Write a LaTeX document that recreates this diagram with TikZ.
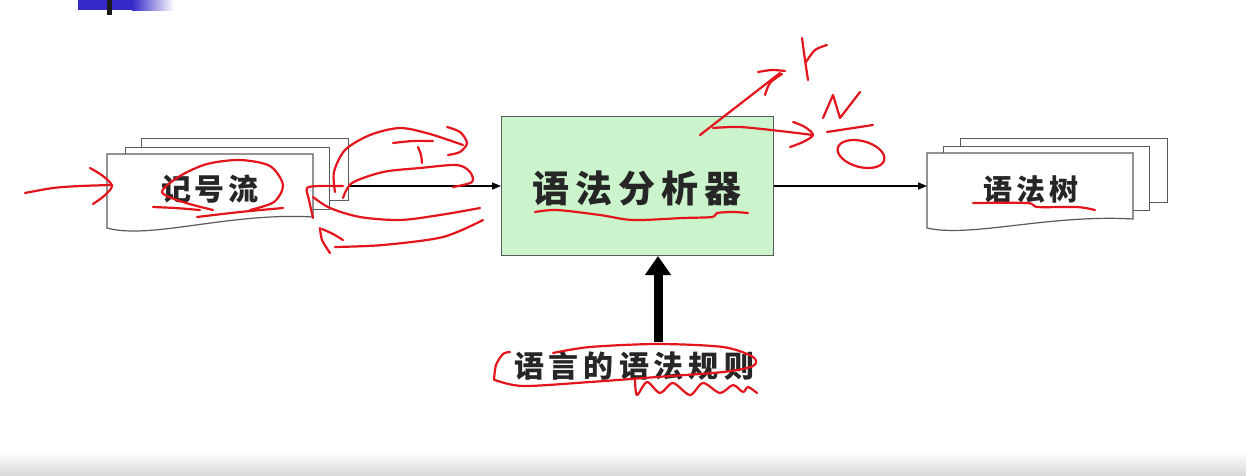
\documentclass[tikz,border=0pt]{standalone}
\usepackage{fontspec}
\setmainfont{Noto Sans CJK SC}
\usetikzlibrary{arrows.meta}
\definecolor{docgray}{HTML}{5A5A5A}
\definecolor{boxgreen}{HTML}{CCF4CC}
\definecolor{ink}{HTML}{E3141B}
\definecolor{slideblue}{HTML}{3629C9}
\definecolor{txt}{HTML}{262626}
\makeatletter
\def\spacedtext#1#2{\def\st@gap{#1}\st@first#2\relax}
\def\st@first#1{#1\st@rest}
\def\st@rest#1{\ifx\relax#1\else\kern\st@gap#1\expandafter\st@rest\fi}
\makeatother
\tikzset{
  docpage/.style={draw=docgray, fill=white, line width=1.2pt},
  thinarrow/.style={draw=black, line width=1.4pt, -{Triangle[length=9pt,width=7pt]}},
  bigarrow/.style={draw=black, line width=9pt, -{Triangle[length=19pt,width=25pt]}},
  doctext/.style={text=txt, inner sep=0pt},
  redpen/.style={draw=ink, line width=2.2pt, line cap=round, line join=round},
}
\begin{document}
\begin{tikzpicture}[x=1pt,y=-1pt]
\useasboundingbox (0,0) rectangle (1246,475);
\fill[white] (0,0) rectangle (1246,475);
% slide decorations
\shade[top color=white, bottom color=black!15] (0,452) rectangle (1246,475);
\fill[slideblue] (78,0) rectangle (132,10);
\shade[left color=slideblue, right color=white] (132,0) rectangle (174,10);
\fill[black!90] (107,0) rectangle (112,15);

% left stack
\node[docpage, minimum width=207pt, minimum height=62pt, anchor=north west, inner sep=0pt] (backL) at (141,138) {};
\node[docpage, minimum width=204pt, minimum height=62pt, anchor=north west, inner sep=0pt] (midL) at (125,147) {};
\draw[docpage] (107,154) -- (313,154) -- (313,217) .. controls (230,212) and (150,240) .. (107,228) -- cycle;
\node[doctext, font=\fontsize{30}{30}\selectfont\bfseries] (tokens) at (210,189) {\spacedtext{4pt}{记号流}};

% parser
\node[draw=docgray, fill=boxgreen, line width=1pt, minimum width=272pt, minimum height=139pt, anchor=north west, inner sep=0pt] (parser) at (501,116) {};
\node[doctext, font=\fontsize{37}{37}\selectfont\bfseries] (ptext) at (637,188) {\spacedtext{6pt}{语法分析器}};

% right stack
\node[docpage, minimum width=207pt, minimum height=64pt, anchor=north west, inner sep=0pt] (backR) at (960,138) {};
\node[docpage, minimum width=206pt, minimum height=64pt, anchor=north west, inner sep=0pt] (midR) at (943,146) {};
\draw[docpage] (927,153) -- (1133,153) -- (1133,219) .. controls (1050,214) and (970,238) .. (927,228) -- cycle;
\coordinate (frontR) at (927,186);
\node[doctext, font=\fontsize{29}{29}\selectfont\bfseries] (tree) at (1031,189) {\spacedtext{4pt}{语法树}};

% rules
\node[doctext, font=\fontsize{30}{30}\selectfont\bfseries] (rules) at (634,366) {\spacedtext{5pt}{语言的语法规则}};
\coordinate (ruleTop) at (658,342);

% connectors
\draw[thinarrow] (backL.east |- parser.west) -- (parser.west);
\draw[thinarrow] (parser.east) -- (parser.east -| frontR);
\draw[bigarrow] (ruleTop) -- (parser.south -| ruleTop);

% red annotations
\draw[redpen] plot[smooth] coordinates {(25,193) (53,188) (80,186) (112,185)};
\draw[redpen] plot[smooth] coordinates {(90,168) (103,176) (112,186) (104,196) (93,204)};
\draw[redpen] plot[smooth] coordinates {(213,210) (183,202) (162,192) (180,176) (207,164) (240,160) (270,166) (283,185) (274,202) (250,210)};
\draw[redpen] plot[smooth] coordinates {(153,207) (175,208) (200,210)};
\draw[redpen] plot[smooth] coordinates {(197,217) (240,212) (283,208)};
\draw[redpen] plot[smooth] coordinates {(343,186) (320,186) (307,188) (309,200) (313,218)};
\draw[redpen] plot[smooth] coordinates {(313,197) (330,208) (360,217) (400,220) (440,215) (480,208)};
\draw[redpen] plot[smooth] coordinates {(335,192) (334,172) (345,150) (370,135) (400,128) (430,134) (463,145)};
\draw[redpen] plot[smooth] coordinates {(447,127) (460,132) (467,143) (460,152) (448,155)};
\draw[redpen] plot[smooth] coordinates {(393,143) (413,141) (433,141)};
\draw[redpen] plot[smooth] coordinates {(418,147) (421,155) (422,163)};
\draw[redpen] plot[smooth] coordinates {(343,198) (352,183) (383,172) (420,168) (457,165) (470,172) (472,182) (453,187)};
\draw[redpen] plot[smooth] coordinates {(483,220) (443,237) (383,245) (335,247)};
\draw[redpen] plot[smooth] coordinates {(330,253) (322,240) (320,228)};
\draw[redpen] plot[smooth] coordinates {(322,229) (333,234) (343,240)};
\draw[redpen] plot[smooth] coordinates {(535,212) (557,210) (600,215) (633,220) (683,218) (712,217) (717,213) (733,212) (748,213)};
\draw[redpen] plot[smooth] coordinates {(973,203) (1027,203) (1038,207) (1077,207) (1095,210)};
\draw[redpen] plot[smooth] coordinates {(510,352) (503,354) (496,365) (494,380)};
\draw[redpen] plot[smooth] coordinates {(495,380) (523,386) (590,382) (657,377) (723,372) (753,366) (753,357) (723,347) (657,344) (590,347) (553,353)};
\draw[redpen] plot[smooth] coordinates {(635,380) (637,395) (647,382) (660,393) (673,383) (690,395) (703,383) (720,393) (733,385) (743,392) (748,387) (757,393)};
\draw[redpen] plot[smooth] coordinates {(700,135) (740,104) (780,73)};
\draw[redpen] plot[smooth] coordinates {(758,72) (772,70) (785,71)};
\draw[redpen] plot[smooth] coordinates {(765,95) (770,83) (782,74)};
\draw[redpen] plot[smooth] coordinates {(802,38) (805,60) (808,80)};
\draw[redpen] plot[smooth] coordinates {(806,62) (815,50) (827,45)};
\draw[redpen] plot[smooth] coordinates {(713,128) (740,127) (780,131) (813,135)};
\draw[redpen] plot[smooth] coordinates {(793,122) (805,127) (813,135) (803,142) (790,147)};
\draw[redpen] (823,118) -- (833,95) -- (840,118) -- (860,92);
\draw[redpen] (827,132) -- (873,125);
\draw[redpen, rotate around={-15:(861,154)}] (861,154) ellipse (24pt and 13pt);
\end{tikzpicture}
\end{document}
